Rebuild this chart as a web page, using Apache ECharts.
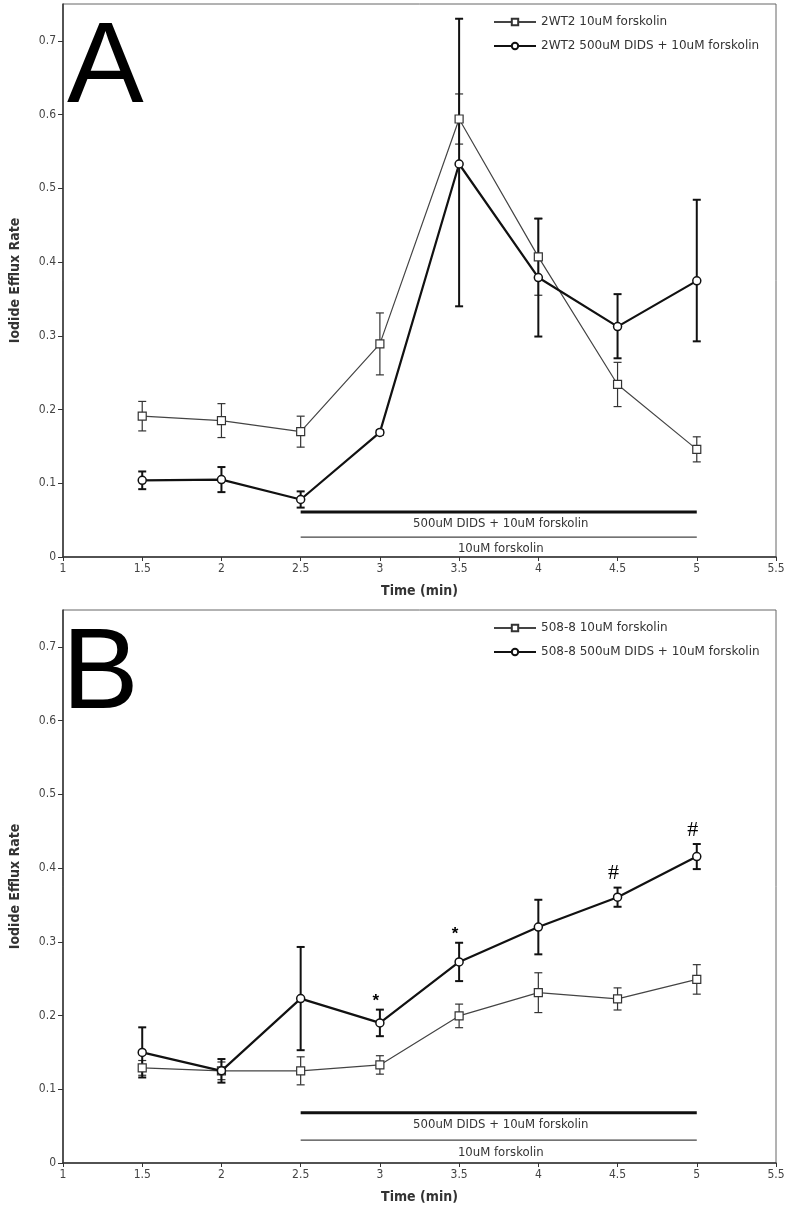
<!DOCTYPE html>
<html>
<head>
<meta charset="utf-8">
<script src="https://cdn.jsdelivr.net/npm/echarts@6/dist/echarts.min.js"></script>
<style>
html,body{margin:0;padding:0;background:#fff;}
#chart{width:789px;height:1205px;}
</style>
</head>
<body>
<div id="chart"></div>
<script>
// ---- data ----
const times = [1.5, 2, 2.5, 3, 3.5, 4, 4.5, 5];
const yTicks = [0, 0.1, 0.2, 0.3, 0.4, 0.5, 0.6, 0.7];
const xTicks = [1, 1.5, 2, 2.5, 3, 3.5, 4, 4.5, 5, 5.5];

const nameA1 = '2WT2 10uM forskolin';
const nameA2 = '2WT2 500uM DIDS + 10uM forskolin';
const meanA1 = [0.191, 0.185, 0.170, 0.289, 0.594, 0.407, 0.234, 0.146];
const errA1  = [0.020, 0.023, 0.021, 0.042, 0.034, 0.052, 0.030, 0.017];
const meanA2 = [0.104, 0.105, 0.078, 0.169, 0.533, 0.379, 0.3125, 0.3745];
const errA2Up   = [0.012, 0.017, 0.011, 0.003, 0.197, 0.080, 0.044, 0.110];
const errA2Down = [0.012, 0.017, 0.011, 0.003, 0.193, 0.080, 0.043, 0.082];

const nameB1 = '508-8 10uM forskolin';
const nameB2 = '508-8 500uM DIDS + 10uM forskolin';
const meanB1 = [0.129, 0.125, 0.125, 0.133, 0.1995, 0.231, 0.2225, 0.249];
const errB1  = [0.010, 0.012, 0.019, 0.0125, 0.016, 0.027, 0.015, 0.020];
const meanB2 = [0.150, 0.125, 0.223, 0.190, 0.2727, 0.320, 0.3605, 0.4156];
const errB2  = [0.034, 0.016, 0.070, 0.018, 0.026, 0.037, 0.013, 0.017];

// treatment period bars
const treatStart = 2.5, treatEnd = 5;
const treatLabels = ['500uM DIDS + 10uM forskolin', '10uM forskolin'];
const treatLevelsA = [0.061, 0.027];
const treatLevelsB = [0.068, 0.031];

// significance marks on panel B (DIDS series)
const sigTimesB = [3, 3.5, 4.5, 5];
const sigSymbolsB = ['*', '*', '#', '#'];

// ---- helpers ----
const tickFont = '"DejaVu Sans Condensed", "Liberation Sans Narrow", "DejaVu Sans", sans-serif';
const legendFont = '"DejaVu Sans", sans-serif';

function errData(means, up, down) { return times.map((t, i) => [t, means[i], up[i], down[i]]); }
function lineData(means) { return times.map((t, i) => [t, means[i]]); }

function errRender(color, lw) {
  return function (params, api) {
    const x = api.value(0), m = api.value(1), eu = api.value(2), ed = api.value(3);
    const top = api.coord([x, m + eu]);
    const bot = api.coord([x, m - ed]);
    const hw = 4;
    const st = { stroke: color, lineWidth: lw };
    return {
      type: 'group',
      children: [
        { type: 'line', shape: { x1: top[0], y1: top[1], x2: bot[0], y2: bot[1] }, style: st },
        { type: 'line', shape: { x1: top[0] - hw, y1: top[1], x2: top[0] + hw, y2: top[1] }, style: st },
        { type: 'line', shape: { x1: bot[0] - hw, y1: bot[1], x2: bot[0] + hw, y2: bot[1] }, style: st }
      ]
    };
  };
}

function treatRender(params, api) {
  const lvl = api.value(0), idx = api.value(1);
  const p1 = api.coord([treatStart, lvl]);
  const p2 = api.coord([treatEnd, lvl]);
  const thick = idx === 0;
  return {
    type: 'group',
    children: [
      { type: 'line', shape: { x1: p1[0], y1: p1[1], x2: p2[0], y2: p2[1] },
        style: { stroke: thick ? '#111' : '#444', lineWidth: thick ? 3 : 1.3 } },
      { type: 'text', x: (p1[0] + p2[0]) / 2 + 2, y: p1[1] + 12,
        style: { text: treatLabels[idx], font: '13px ' + tickFont, fill: '#333',
                 textAlign: 'center', textVerticalAlign: 'middle' } }
    ]
  };
}

function sigRender(params, api) {
  const x = api.value(0), top = api.value(1), idx = api.value(2);
  const p = api.coord([x, top]);
  const sym = sigSymbolsB[idx];
  const isHash = sym === '#';
  return {
    type: 'text', x: p[0] - 4, y: p[1] - (isHash ? 3 : 0),
    style: { text: sym, font: isHash ? '22px "Liberation Serif", serif' : 'bold 17px "Liberation Sans", sans-serif',
             fill: '#000', textAlign: 'center', textVerticalAlign: 'bottom' }
  };
}

function gridDef(top) {
  return { left: 58, top: top, width: 718, height: 553, show: true, borderColor: '#666', borderWidth: 1, backgroundColor: 'transparent' };
}
function xAxisDef(gi) {
  return {
    type: 'value', gridIndex: gi, min: 1, max: 5.5, interval: 0.5,
    name: 'Time (min)', nameLocation: 'middle', nameGap: 27,
    nameTextStyle: { fontFamily: tickFont, fontWeight: 'bold', fontSize: 14, color: '#333' },
    axisLine: { show: true, onZero: false, lineStyle: { color: '#333', width: 1.5 } },
    axisTick: { show: true, length: 4, inside: false, lineStyle: { color: '#333' }, customValues: xTicks },
    axisLabel: { fontFamily: tickFont, fontSize: 12, color: '#444', margin: 6, customValues: xTicks },
    splitLine: { show: false }
  };
}
function yAxisDef(gi) {
  return {
    type: 'value', gridIndex: gi, min: 0, max: 0.75,
    name: 'Iodide Efflux Rate', nameLocation: 'middle', nameGap: 41,
    nameTextStyle: { fontFamily: tickFont, fontWeight: 'bold', fontSize: 14, color: '#333' },
    axisLine: { show: true, onZero: false, lineStyle: { color: '#333', width: 1.5 } },
    axisTick: { show: true, length: 5, lineStyle: { color: '#333' }, customValues: yTicks },
    axisLabel: { fontFamily: tickFont, fontSize: 12, color: '#444', margin: 7, customValues: yTicks },
    splitLine: { show: false }
  };
}

function panelSeries(gi, n1, m1, e1u, e1d, n2, m2, e2u, e2d, levels) {
  return [
    { type: 'custom', xAxisIndex: gi, yAxisIndex: gi, renderItem: errRender('#333', 1.2), data: errData(m1, e1u, e1d), z: 2, silent: true },
    { type: 'custom', xAxisIndex: gi, yAxisIndex: gi, renderItem: errRender('#111', 2), data: errData(m2, e2u, e2d), z: 2, silent: true },
    { type: 'line', name: n1, xAxisIndex: gi, yAxisIndex: gi, data: lineData(m1),
      symbol: 'rect', symbolSize: 8, showSymbol: true,
      lineStyle: { color: '#444', width: 1.2 },
      itemStyle: { color: '#fff', borderColor: '#333', borderWidth: 1.2 }, z: 3, animation: false },
    { type: 'line', name: n2, xAxisIndex: gi, yAxisIndex: gi, data: lineData(m2),
      symbol: 'circle', symbolSize: 8, showSymbol: true,
      lineStyle: { color: '#111', width: 2.2 },
      itemStyle: { color: '#fff', borderColor: '#111', borderWidth: 1.5 }, z: 4, animation: false },
    { type: 'custom', xAxisIndex: gi, yAxisIndex: gi, renderItem: treatRender,
      data: levels.map((l, i) => [l, i]), encode: { x: -1, y: 0 }, z: 2, silent: true }
  ];
}

const series = []
  .concat(panelSeries(0, nameA1, meanA1, errA1, errA1, nameA2, meanA2, errA2Up, errA2Down, treatLevelsA))
  .concat(panelSeries(1, nameB1, meanB1, errB1, errB1, nameB2, meanB2, errB2, errB2, treatLevelsB));

series.push({
  type: 'custom', xAxisIndex: 1, yAxisIndex: 1, renderItem: sigRender, silent: true, z: 5,
  data: sigTimesB.map((t, i) => { const k = times.indexOf(t); return [t, meanB2[k] + errB2[k], i]; })
});

const legendCommon = {
  orient: 'vertical', left: 488, itemWidth: 42, itemHeight: 8, itemGap: 12,
  textStyle: { fontFamily: legendFont, fontSize: 12, color: '#333' },
  selectedMode: false
};

const option = {
  animation: false,
  backgroundColor: '#fff',
  grid: [gridDef(4), gridDef(610)],
  xAxis: [xAxisDef(0), xAxisDef(1)],
  yAxis: [yAxisDef(0), yAxisDef(1)],
  legend: [
    Object.assign({}, legendCommon, { top: 11, data: [nameA1, nameA2] }),
    Object.assign({}, legendCommon, { top: 617, data: [nameB1, nameB2] })
  ],
  graphic: [
    { type: 'text', x: 67, y: 70, style: { text: 'A', font: '115px "Liberation Sans", Arial, sans-serif', fill: '#000', textVerticalAlign: 'middle' } },
    { type: 'text', x: 62, y: 676, style: { text: 'B', font: '115px "Liberation Sans", Arial, sans-serif', fill: '#000', textVerticalAlign: 'middle' } }
  ],
  series: series
};

const chart = echarts.init(document.getElementById('chart'), null, { renderer: 'canvas' });
chart.setOption(option);
</script>
</body>
</html>
